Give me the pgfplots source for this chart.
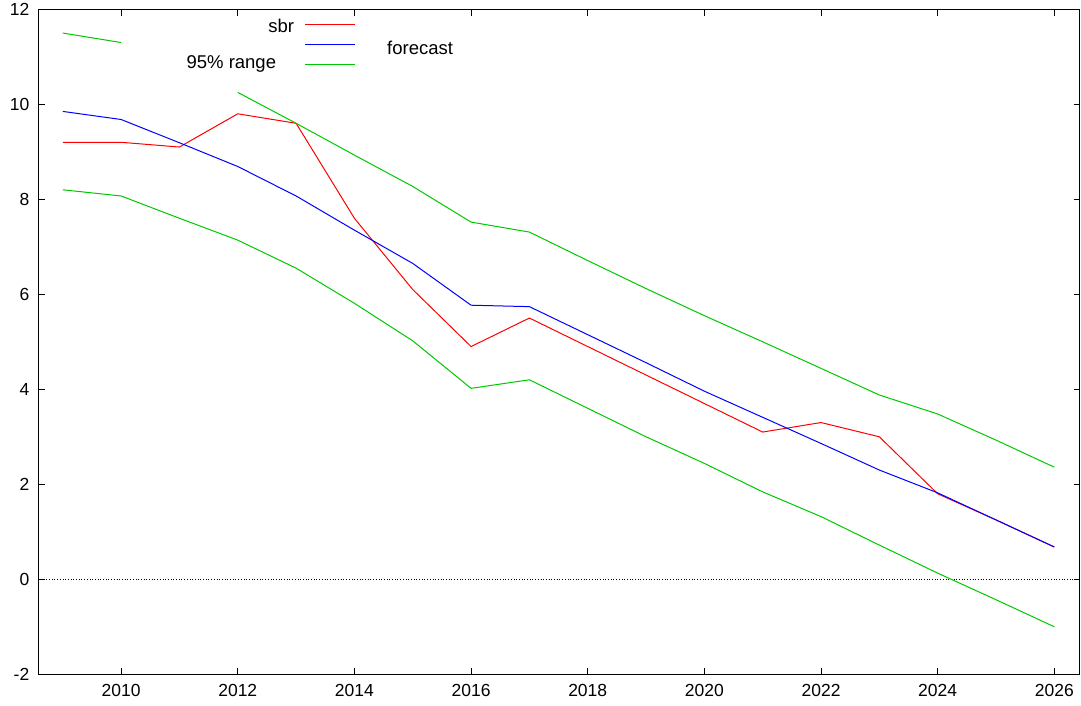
\documentclass[border=0pt]{standalone}
\usepackage{fontspec}
\setmainfont{Liberation Sans}
\usepackage{pgfplots}
\pgfplotsset{compat=1.18}
\definecolor{gpred}{RGB}{255,0,0}
\definecolor{gpblue}{RGB}{0,0,255}
\definecolor{gpgreen}{RGB}{0,200,0}
\begin{document}
\fontsize{17.5}{21}\selectfont
\begin{tikzpicture}
\path[use as bounding box] (-38.3pt,-31.7pt) rectangle (1042.7pt,674.3pt);
\begin{axis}[
  scale only axis,
  width=1041.7pt, height=665pt,
  xmin=2008.58, xmax=2026.44,
  ymin=-2, ymax=12,
  axis line style={black, line width=1pt},
  tick style={black, line width=0.8pt},
  major tick length=6.5pt,
  tick align=inside,
  xtick={2010,2012,...,2026},
  xticklabels={2010,2012,2014,2016,2018,2020,2022,2024,2026},
  ytick={-2,0,...,12},
  yticklabels={-2,0,2,4,6,8,10,12},
  xticklabel style={yshift=-4pt},
  yticklabel style={xshift=-3pt},
  tick label style={font=\fontsize{17.5}{21}\selectfont},
  unbounded coords=jump,
  clip=false,
]
% zero line
\addplot[black, dotted, line width=0.7pt] coordinates {(2008.58,0) (2026.44,0)};
% sbr
\addplot[gpred, line width=1pt] coordinates {
(2009,9.2) (2010,9.2) (2011,9.1) (2012,9.8) (2013,9.6) (2014,7.6) (2015,6.1)
(2016,4.9) (2017,5.5) (2018,4.9) (2019,4.3) (2020,3.7) (2021,3.1) (2022,3.3)
(2023,3.0) (2024,1.8) (2025,1.25) (2026,0.68)};
% forecast
\addplot[gpblue, line width=1pt] coordinates {
(2009,9.85) (2010,9.68) (2011,9.19) (2012,8.69) (2013,8.07) (2014,7.35) (2015,6.65)
(2016,5.77) (2017,5.74) (2018,5.15) (2019,4.56) (2020,3.96) (2021,3.41) (2022,2.86)
(2023,2.30) (2024,1.82) (2025,1.25) (2026,0.68)};
% 95% range upper
\addplot[gpgreen, line width=1pt] coordinates {
(2009,11.5) (2010,11.3) (2011,nan) (2012,10.25) (2013,9.6) (2014,8.93) (2015,8.27)
(2016,7.52) (2017,7.31) (2018,6.71) (2019,6.12) (2020,5.55) (2021,5.0) (2022,4.44)
(2023,3.88) (2024,3.48) (2025,2.93) (2026,2.36)};
% 95% range lower
\addplot[gpgreen, line width=1pt] coordinates {
(2009,8.2) (2010,8.07) (2011,7.6) (2012,7.14) (2013,6.55) (2014,5.81) (2015,5.02)
(2016,4.02) (2017,4.2) (2018,3.6) (2019,3.0) (2020,2.44) (2021,1.84) (2022,1.32)
(2023,0.72) (2024,0.13) (2025,-0.43) (2026,-1.0)};
\end{axis}
% key
\draw[gpred, line width=1pt] (266.7pt,649.3pt) -- (316.7pt,649.3pt);
\draw[gpblue, line width=1pt] (266.7pt,630pt) -- (316.7pt,630pt);
\draw[gpgreen, line width=1pt] (266.7pt,610pt) -- (316.7pt,610pt);
\begin{scope}[font=\fontsize{18.5}{22}\selectfont]
\node[anchor=base east, inner sep=0pt] at (256pt,641.6pt) {sbr};
\node[anchor=base west, inner sep=0pt] at (348.7pt,619.3pt) {forecast};
\node[anchor=base east, inner sep=0pt] at (238pt,606pt) {95\% range};
\end{scope}
\end{tikzpicture}
\end{document}
